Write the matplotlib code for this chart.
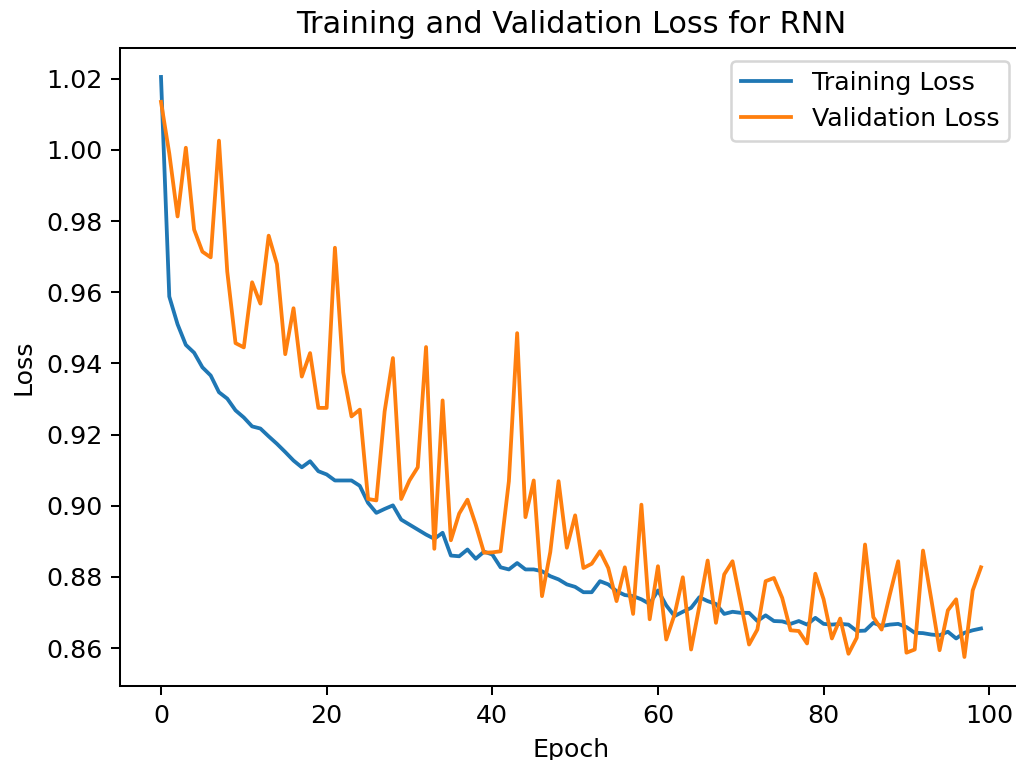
import matplotlib
matplotlib.use("Agg")
import matplotlib.pyplot as plt

train_loss = [
    1.0205, 0.9588, 0.9510, 0.9452, 0.9430, 0.9389, 0.9366, 0.9319, 0.9301, 0.9268,
    0.9248, 0.9223, 0.9217, 0.9195, 0.9174, 0.9151, 0.9127, 0.9108, 0.9125, 0.9097,
    0.9088, 0.9071, 0.9071, 0.9071, 0.9056, 0.9008, 0.8980, 0.8991, 0.9001, 0.8961,
    0.8947, 0.8933, 0.8919, 0.8907, 0.8924, 0.8860, 0.8858, 0.8877, 0.8851, 0.8871,
    0.8863, 0.8827, 0.8821, 0.8839, 0.8821, 0.8821, 0.8816, 0.8802, 0.8793, 0.8779,
    0.8772, 0.8757, 0.8757, 0.8788, 0.8779, 0.8760, 0.8749, 0.8746, 0.8737, 0.8724,
    0.8762, 0.8720, 0.8690, 0.8702, 0.8713, 0.8743, 0.8732, 0.8724, 0.8696, 0.8702,
    0.8699, 0.8699, 0.8676, 0.8692, 0.8676, 0.8675, 0.8668, 0.8676, 0.8666, 0.8685,
    0.8668, 0.8666, 0.8668, 0.8666, 0.8648, 0.8649, 0.8671, 0.8662, 0.8666, 0.8668,
    0.8659, 0.8643, 0.8642, 0.8638, 0.8636, 0.8646, 0.8627, 0.8643, 0.8650, 0.8655,
]

val_loss = [
    1.0135, 0.9990, 0.9813, 1.0006, 0.9776, 0.9714, 0.9698, 1.0026, 0.9658, 0.9457,
    0.9445, 0.9628, 0.9568, 0.9759, 0.9679, 0.9426, 0.9555, 0.9363, 0.9429, 0.9275,
    0.9275, 0.9725, 0.9375, 0.9251, 0.9270, 0.9019, 0.9015, 0.9265, 0.9415, 0.9019,
    0.9071, 0.9108, 0.9446, 0.8879, 0.9296, 0.8903, 0.8978, 0.9017, 0.8947, 0.8868,
    0.8869, 0.8872, 0.9069, 0.9485, 0.8968, 0.9071, 0.8746, 0.8870, 0.9069, 0.8882,
    0.8973, 0.8825, 0.8837, 0.8872, 0.8825, 0.8732, 0.8827, 0.8696, 0.9003, 0.8681,
    0.8830, 0.8624, 0.8694, 0.8799, 0.8596, 0.8718, 0.8846, 0.8671, 0.8807, 0.8844,
    0.8727, 0.8610, 0.8652, 0.8788, 0.8797, 0.8741, 0.8650, 0.8648, 0.8613, 0.8809,
    0.8737, 0.8627, 0.8683, 0.8584, 0.8629, 0.8891, 0.8687, 0.8652, 0.8751, 0.8844,
    0.8587, 0.8596, 0.8874, 0.8737, 0.8594, 0.8706, 0.8737, 0.8575, 0.8762, 0.8827,
]

epochs = list(range(len(train_loss)))

dpi = 182
fig = plt.figure(figsize=(1016 / dpi, 760 / dpi), dpi=dpi)
# axes extend slightly past the right edge of the canvas
ax = fig.add_axes([0.1181, 0.0974, 0.8878, 0.8395])
ax.plot(epochs, train_loss, label="Training Loss")
ax.plot(epochs, val_loss, label="Validation Loss")
ax.set_title("Training and Validation Loss for RNN")
ax.set_xlabel("Epoch")
ax.set_ylabel("Loss")
ax.legend(loc="upper right")
fig.savefig("out.png", dpi=dpi)
